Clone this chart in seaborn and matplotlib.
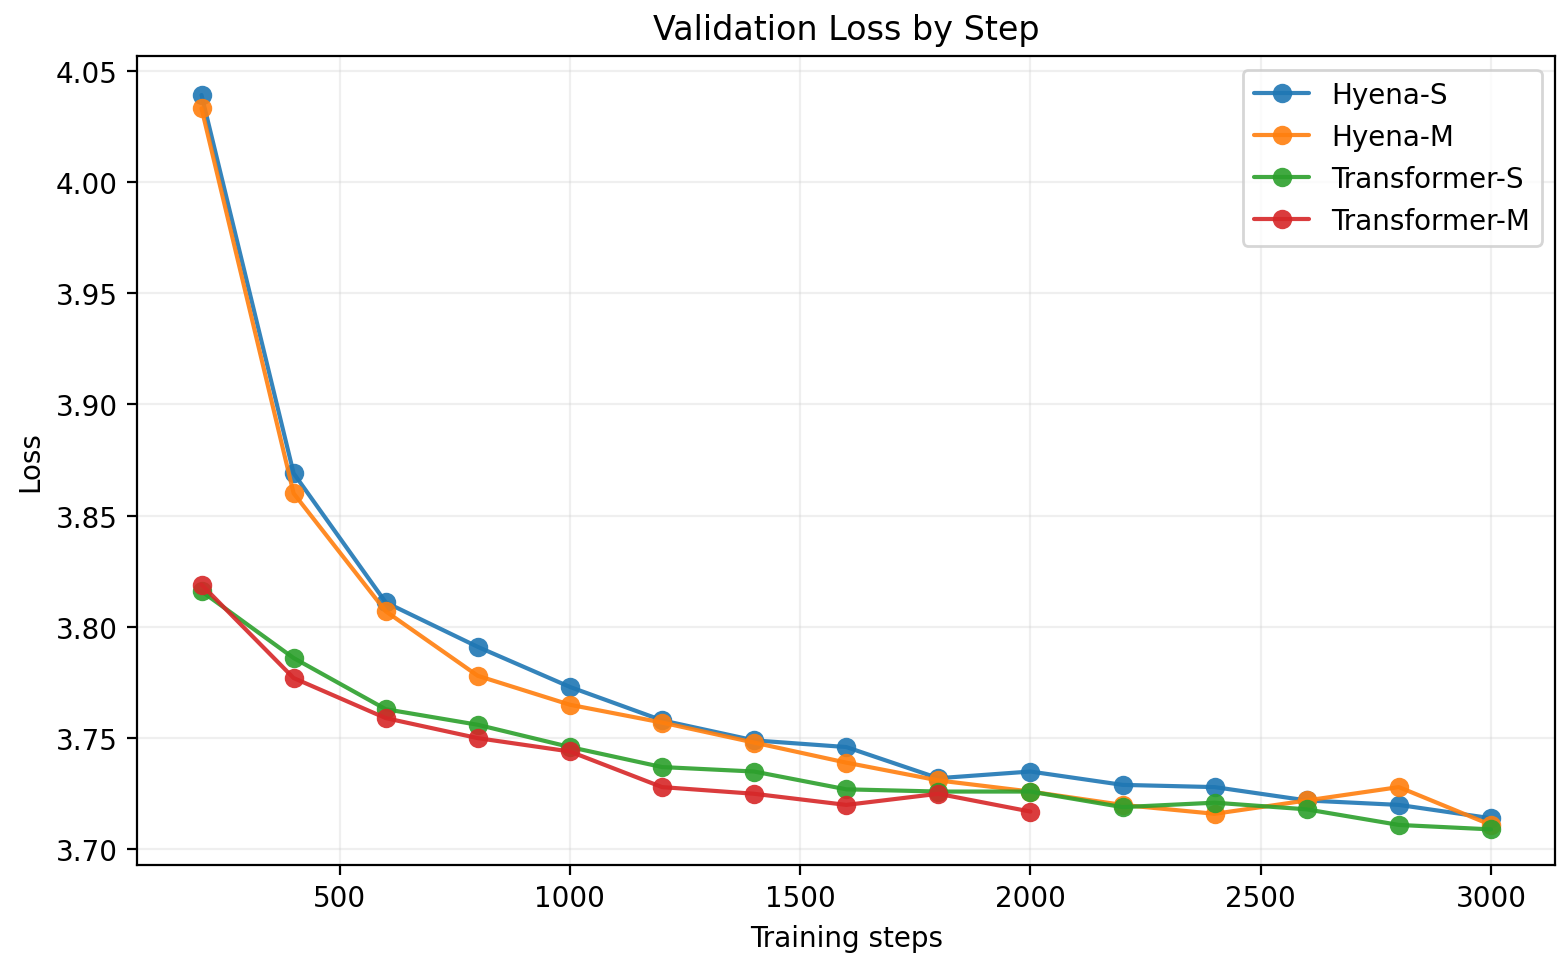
import pandas as pd
import matplotlib.pyplot as plt
import seaborn as sns

# Validation loss per model
steps = [200, 400, 600, 800, 1000, 1200, 1400, 1600, 1800, 2000,
         2200, 2400, 2600, 2800, 3000]
hyena_s = [4.039, 3.869, 3.811, 3.791, 3.773, 3.758, 3.749, 3.746, 3.732, 3.735,
           3.729, 3.728, 3.722, 3.720, 3.714]
hyena_m = [4.033, 3.860, 3.807, 3.778, 3.765, 3.757, 3.748, 3.739, 3.731, 3.726,
           3.720, 3.716, 3.722, 3.728, 3.711]
transformer_s = [3.816, 3.786, 3.763, 3.756, 3.746, 3.737, 3.735, 3.727, 3.726, 3.726,
                 3.719, 3.721, 3.718, 3.711, 3.709]
transformer_m = [3.819, 3.777, 3.759, 3.750, 3.744, 3.728, 3.725, 3.720, 3.725, 3.717]

models = ["Hyena-S", "Hyena-M", "Transformer-S", "Transformer-M"]
series = [hyena_s, hyena_m, transformer_s, transformer_m]

rows = []
for name, vals in zip(models, series):
    for s, v in zip(steps, vals):
        rows.append({"step": s, "loss": v, "model": name})
df = pd.DataFrame(rows)

sns.set_style("ticks", rc={"text.color": "black", "axes.labelcolor": "black",
                           "xtick.color": "black", "ytick.color": "black",
                           "axes.edgecolor": "black"})
plt.rcParams['font.family'] = ['DejaVu Sans']

fig = plt.figure(figsize=(1568 / 200, 962 / 200), dpi=200)
ax = fig.add_axes([0.0874, 0.0998, 0.9046, 0.8409])

palette = ["#1f77b4", "#ff7f0e", "#2ca02c", "#d62728"]
sns.lineplot(data=df, x="step", y="loss", hue="model", hue_order=models,
             palette=palette, marker="o", markersize=7, markeredgewidth=0,
             linewidth=1.5, alpha=0.9, ax=ax)

ax.set_title("Validation Loss by Step", fontsize=12)
ax.set_xlabel("Training steps", fontsize=10)
ax.set_ylabel("Loss", fontsize=10)
ax.tick_params(labelsize=10)
ax.set_ylim(3.693, 4.0565)
ax.set_xlim(60, 3140)
ax.set_xticks([500, 1000, 1500, 2000, 2500, 3000])
ax.set_yticks([3.70, 3.75, 3.80, 3.85, 3.90, 3.95, 4.00, 4.05])
ax.grid(True, alpha=0.3)
for sp in ax.spines.values():
    sp.set_linewidth(0.8)
ax.legend(loc="upper right", title=None, fontsize=10)

fig.savefig("out.png", dpi=200)
